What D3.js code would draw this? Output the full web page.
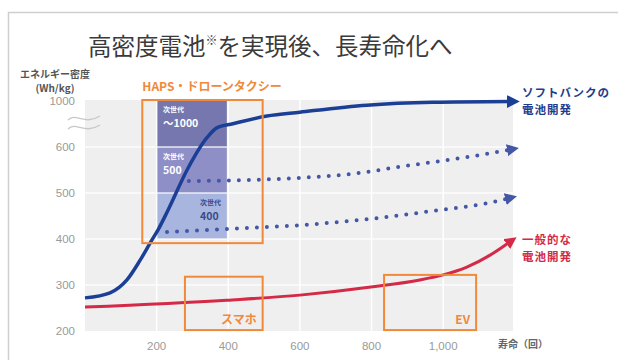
<!DOCTYPE html>
<html>
<head>
<meta charset="utf-8">
<script src="https://d3js.org/d3.v7.min.js"></script>
<style>
  body { margin: 0; background: #fff; }
  svg { display: block; font-family: "Noto Sans CJK JP", "Noto Sans", sans-serif; }
</style>
</head>
<body>
<svg></svg>
<script>
// chart data
var xTicks = [200, 400, 600, 800, 1000];
var yTicks = [200, 300, 400, 500, 600, 1000];

// solid: softbank battery
var sbCycles = [0, 70, 117, 154, 187, 204, 232, 285, 341, 368, 413, 508, 600, 787, 971, 1185];
var sbDensity = [272, 283, 311, 354, 398, 420, 463, 550, 682, 765, 800, 867, 900, 960, 985, 992];

// dotted: next gen 500
var ng500Cycles = [290, 450, 600, 750, 879, 1066, 1185];
var ng500Density = [526, 528, 533, 542, 557, 578, 594];

// dotted: next gen 400
var ng400Cycles = [229, 450, 600, 787, 971, 1111, 1180];
var ng400Density = [415, 424, 430, 443, 461, 476, 488];

// red: general battery
var genCycles = [0, 396, 600, 804, 935, 1000, 1066, 1131, 1183];
var genDensity = [252, 267, 278, 296, 311, 322, 339, 365, 392];

// next gen bands
var bandLabels = ["～1000", "500", "400"];
var bandLow = [600, 500, 400];
var bandHigh = [1005, 600, 500];
var bandColors = ["#7577ae", "#8f8fc7", "#a8b5de"];

// use-case boxes (cycles / density)
var boxNames = ["HAPS・ドローンタクシー", "スマホ", "EV"];
var boxX0 = [160, 279, 835];
var boxX1 = [496, 496, 1092];
var boxY0 = [391, 202, 202];
var boxY1 = [1005, 318, 322];

var W = 618, H = 360;
var svg = d3.select("svg").attr("width", W).attr("height", H);

var x = d3.scaleLinear().domain([0, 1195]).range([85, 513]);
var y = d3.scaleLinear().domain([200, 600, 1005]).range([331, 147, 100]);

// frame
svg.append("path").attr("d", "M8.5,360V12.5H618")
  .attr("fill", "none").attr("stroke", "#cfcfcf").attr("stroke-width", 1.5);

// title
var title = svg.append("text").attr("x", 88).attr("y", 55)
  .attr("font-size", 23.5).attr("fill", "#3a3a3a");
title.append("tspan").text("高密度電池");
title.append("tspan").attr("font-size", 12).attr("dy", -10).text("※");
title.append("tspan").attr("dy", 10).text("を実現後、長寿命化へ");

// plot background
svg.append("rect")
  .attr("x", x(0)).attr("y", y(1005))
  .attr("width", x(1195) - x(0)).attr("height", y(200) - y(1005))
  .attr("fill", "#efefef");

// next gen bands
bandLow.forEach(function (lo, i) {
  svg.append("rect")
    .attr("x", x(200)).attr("y", y(bandHigh[i]))
    .attr("width", x(396) - x(200)).attr("height", y(lo) - y(bandHigh[i]))
    .attr("fill", bandColors[i]);
});

// grid
svg.append("g").selectAll("line").data(yTicks.filter(function (d) { return d > 200 && d < 1000; }))
  .join("line")
  .attr("x1", x(0)).attr("x2", x(1195))
  .attr("y1", function (d) { return y(d); }).attr("y2", function (d) { return y(d); })
  .attr("stroke", "#fff").attr("stroke-opacity", 0.8).attr("stroke-width", 1.5);
svg.append("g").selectAll("line").data(xTicks)
  .join("line")
  .attr("x1", function (d) { return x(d); }).attr("x2", function (d) { return x(d); })
  .attr("y1", y(1005)).attr("y2", y(200))
  .attr("stroke", "#fff").attr("stroke-width", 1.5);

// band texts
var bandTextX = [163, 163, 200];
bandLow.forEach(function (lo, i) {
  var top = y(bandHigh[i]);
  var c = i < 2 ? "#fff" : "#3b4a8c";
  svg.append("text").attr("x", bandTextX[i]).attr("y", top + 12)
    .attr("font-size", 7).attr("font-weight", "bold").attr("fill", c).text("次世代");
  svg.append("text").attr("x", bandTextX[i]).attr("y", top + 27)
    .attr("font-size", 10.5).attr("font-weight", "bold").attr("fill", c).text(bandLabels[i]);
});

// axis tick labels
svg.append("g").selectAll("text").data(yTicks).join("text")
  .attr("x", 75).attr("y", function (d) { return y(d) + 4; })
  .attr("text-anchor", "end").attr("font-size", 11.5).attr("fill", "#9a9a9a")
  .attr("font-family", "Liberation Sans, Arial, sans-serif")
  .text(function (d) { return d; });
svg.append("g").selectAll("text").data(xTicks).join("text")
  .attr("x", function (d) { return x(d); }).attr("y", 350)
  .attr("text-anchor", "middle").attr("font-size", 11.5).attr("fill", "#9a9a9a")
  .attr("font-family", "Liberation Sans, Arial, sans-serif")
  .text(d3.format(","));

svg.append("text").attr("x", 55).attr("y", 78).attr("text-anchor", "middle")
  .attr("font-size", 10).attr("font-weight", "bold").attr("fill", "#555").text("エネルギー密度");
svg.append("text").attr("x", 55).attr("y", 92).attr("text-anchor", "middle")
  .attr("font-size", 10).attr("font-weight", "bold").attr("fill", "#555").text("(Wh/kg)");
svg.append("text").attr("x", 498).attr("y", 348)
  .attr("font-size", 10).attr("font-weight", "bold").attr("fill", "#666").text("寿命（回）");

// axis break squiggle
[118, 127].forEach(function (yy) {
  svg.append("path")
    .attr("d", "M68," + (yy + 2) + "C76," + (yy - 6) + " 84," + (yy + 8) + " 100," + (yy - 2))
    .attr("fill", "none").attr("stroke", "#c8c8c8").attr("stroke-width", 1.3);
});

// arrow markers
var defs = svg.append("defs");
function marker(id, color, size) {
  defs.append("marker").attr("id", id)
    .attr("viewBox", "0 0 10 10").attr("refX", 2).attr("refY", 5)
    .attr("markerWidth", size).attr("markerHeight", size)
    .attr("markerUnits", "userSpaceOnUse").attr("orient", "auto")
    .append("path").attr("d", "M0,0L10,5L0,10Z").attr("fill", color);
}
marker("arBlue", "#1c3f96", 13);
marker("arDot", "#4456a6", 12);
marker("arRed", "#d42a48", 12);

var line = d3.line()
  .x(function (d) { return x(d[0]); })
  .y(function (d) { return y(d[1]); })
  .curve(d3.curveMonotoneX);

function pairs(a, b) { return a.map(function (v, i) { return [v, b[i]]; }); }

svg.append("path").datum(pairs(ng400Cycles, ng400Density)).attr("d", line)
  .attr("fill", "none").attr("stroke", "#4456a6").attr("stroke-width", 4)
  .attr("stroke-linecap", "round").attr("stroke-dasharray", "0,10")
  .attr("marker-end", "url(#arDot)");
svg.append("path").datum(pairs(ng500Cycles, ng500Density)).attr("d", line)
  .attr("fill", "none").attr("stroke", "#4456a6").attr("stroke-width", 4)
  .attr("stroke-linecap", "round").attr("stroke-dasharray", "0,10")
  .attr("marker-end", "url(#arDot)");
svg.append("path").datum(pairs(genCycles, genDensity)).attr("d", line)
  .attr("fill", "none").attr("stroke", "#d42a48").attr("stroke-width", 3)
  .attr("marker-end", "url(#arRed)");
svg.append("path").datum(pairs(sbCycles, sbDensity)).attr("d", line)
  .attr("fill", "none").attr("stroke", "#1c3f96").attr("stroke-width", 3.5)
  .attr("marker-end", "url(#arBlue)");

// use-case boxes
var orange = "#f0893a";
boxNames.forEach(function (name, i) {
  svg.append("rect")
    .attr("x", x(boxX0[i])).attr("y", y(boxY1[i]))
    .attr("width", x(boxX1[i]) - x(boxX0[i])).attr("height", y(boxY0[i]) - y(boxY1[i]))
    .attr("fill", "none").attr("stroke", orange).attr("stroke-width", 2);
  if (i === 0) {
    svg.append("text").attr("x", x(boxX0[i])).attr("y", 91)
      .attr("font-size", 12).attr("font-weight", "bold").attr("fill", orange).text(name);
  } else {
    svg.append("text").attr("x", x(boxX1[i]) - 6).attr("y", y(boxY0[i]) - 6)
      .attr("text-anchor", "end").attr("font-size", 12).attr("font-weight", "bold")
      .attr("fill", orange).text(name);
  }
});

// right labels
function sideLabel(txt, yy, color) {
  svg.append("text").attr("x", 522).attr("y", yy).attr("font-size", 11.5)
    .attr("letter-spacing", 1).attr("font-weight", "bold").attr("fill", color).text(txt);
}
sideLabel("ソフトバンクの", 97, "#1f3c8c");
sideLabel("電池開発", 114, "#1f3c8c");
sideLabel("一般的な", 244, "#d42a48");
sideLabel("電池開発", 261, "#d42a48");
</script>
</body>
</html>
